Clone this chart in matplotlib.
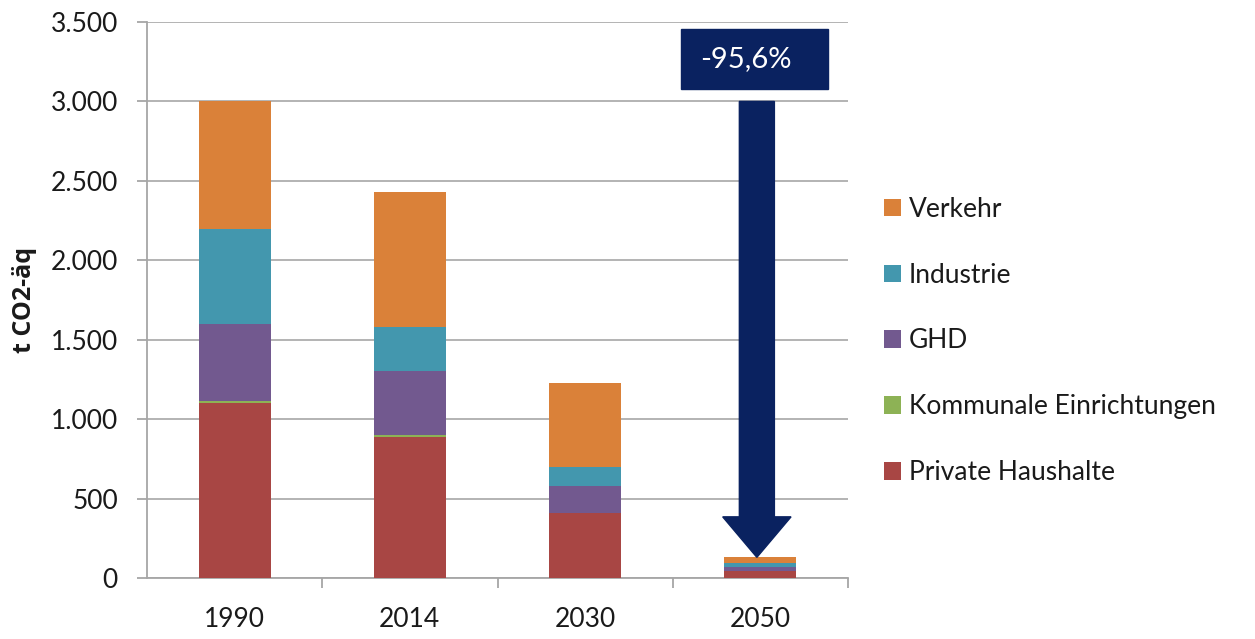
import matplotlib
matplotlib.use("Agg")
import matplotlib.pyplot as plt
from matplotlib.patches import FancyArrow, Rectangle
from matplotlib.ticker import FuncFormatter, FixedLocator
import numpy as np

plt.rcParams['font.family'] = ['Lato', 'DejaVu Sans']

years = ["1990", "2014", "2030", "2050"]
private_haushalte = [1100, 885, 407, 45]
kommunale = [15, 15, 5, 2]
ghd = [485, 400, 168, 20]
industrie = [600, 280, 121, 30]
verkehr = [800, 850, 525, 33]
series_names = ["Private Haushalte", "Kommunale Einrichtungen", "GHD", "Industrie", "Verkehr"]
colors = ["#A84644", "#8DB255", "#72598F", "#4397AE", "#DA8139"]
reduction_label = "-95,6%"
y_ticks = [0, 500, 1000, 1500, 2000, 2500, 3000, 3500]

fig = plt.figure(figsize=(12.55, 6.39), dpi=100)
ax = fig.add_axes([147/1255, 61/639, 701/1255, 556/639])

x = np.arange(len(years))
series = [private_haushalte, kommunale, ghd, industrie, verkehr]
bottom = np.zeros(len(years))
handles = []
for vals, name, c in zip(series, series_names, colors):
    h = ax.bar(x, vals, width=0.41, bottom=bottom, color=c, label=name, zorder=3)
    handles.append(h)
    bottom += np.array(vals)

ax.set_xlim(-0.5, 3.5)
ax.set_ylim(0, 3500)
ax.set_yticks(y_ticks)
ax.yaxis.set_major_formatter(FuncFormatter(lambda v, p: f"{int(v):,}".replace(",", ".")))
ax.set_xticks(x)
ax.set_xticklabels(years)
ax.xaxis.set_minor_locator(FixedLocator([0.5, 1.5, 2.5, 3.5]))
ax.tick_params(axis='x', which='major', length=0, pad=21, labelsize=19, colors='#1a1a1a')
ax.tick_params(axis='x', which='minor', length=7, color='#a6a6a6', width=1.3)
ax.tick_params(axis='y', length=7, color='#a6a6a6', width=1.3, labelsize=19, pad=14, labelcolor='#1a1a1a')
ax.grid(axis='y', color='#b3b3b3', linewidth=1.4, zorder=0)
for s in ['top', 'right']:
    ax.spines[s].set_visible(False)
for s in ['left', 'bottom']:
    ax.spines[s].set_color('#a6a6a6')
    ax.spines[s].set_linewidth(1.3)
ax.set_ylabel("t CO2-äq", fontsize=18, fontweight='bold', labelpad=10,
              family=['Open Sans', 'DejaVu Sans'], color='#1a1a1a')

# Arrow from 1990 total to 2050 total
start = bottom[0]
end = bottom[3]
arr = FancyArrow(3 - 0.02, start, 0, -(start - end), width=0.2, head_width=0.39,
                 head_length=255, length_includes_head=True, color="#0A2260", zorder=4)
ax.add_patch(arr)
ax.add_patch(Rectangle((2.546, 3080), 0.84, 378, color="#0A2260", zorder=4))
ax.text(2.915, 3269, reduction_label, color='white', fontsize=21, ha='center', va='center', zorder=5)

leg = fig.legend(handles[::-1], series_names[::-1], loc='center left',
                 bbox_to_anchor=(884/1255, 1 - 341/639), frameon=False, fontsize=19,
                 labelspacing=1.55, handlelength=0.65, handleheight=0.65, handletextpad=0.3,
                 borderpad=0, borderaxespad=0)
for t in leg.get_texts():
    t.set_color('#1a1a1a')

fig.savefig("out.png", dpi=100)
